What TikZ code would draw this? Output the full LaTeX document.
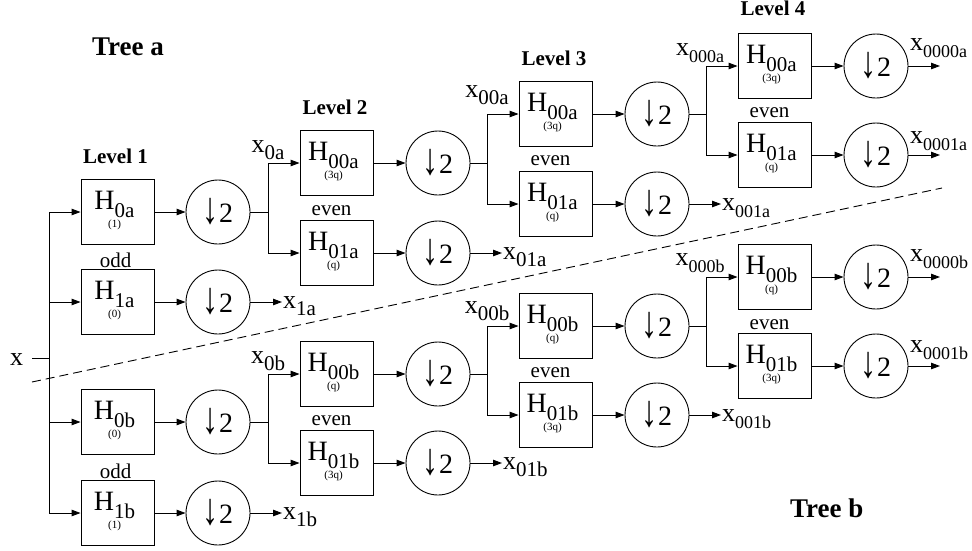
\documentclass[tikz,border=0pt]{standalone}
\usepackage{fontspec}
\usepackage{graphicx}
\setmainfont{Liberation Serif}
\usetikzlibrary{arrows.meta}
\newcommand\hsub[1]{\raisebox{-8pt}{\fontsize{21}{21}\selectfont #1}}
\newcommand\xlab[1]{x\raisebox{-7pt}{\fontsize{21}{21}\selectfont #1}}
\newcommand\xlabs[1]{x\raisebox{-7pt}{\fontsize{18}{18}\selectfont #1}}
\newcommand\filt[5]{%
 \node[fbox] (#1) at (#2,#3) {};
 \node[htext] (#1h) at (#2-3,#3-3) {H\hsub{#4}};
 \node[stext] (#1s) at (#2-3,#3+13) {(#5)};}
\newcommand\dec[3]{\node[dsc] (#1) at (#2,#3) {\raisebox{-1pt}{\scalebox{1.15}[1.6]{↓}}2};}
\tikzset{
 fbox/.style={draw, line width=0.9pt, minimum width=73pt, minimum height=65pt, inner sep=0pt},
 htext/.style={anchor=base, inner sep=0pt, font=\fontsize{28}{28}\selectfont},
 stext/.style={inner sep=0pt, font=\fontsize{11}{11}\selectfont},
 dsc/.style={draw, circle, line width=0.9pt, minimum size=64pt, inner sep=0pt, font=\fontsize{28}{28}\selectfont},
 arr/.style={line width=0.9pt, -{Triangle[length=9pt,width=6.5pt]}},
 ln/.style={line width=0.9pt},
 xl/.style={inner sep=0pt, font=\fontsize{26}{26}\selectfont},
 lvl/.style={anchor=base, inner sep=0pt, font=\fontsize{21}{21}\selectfont\bfseries},
 tree/.style={anchor=base west, inner sep=0pt, font=\fontsize{27}{27}\selectfont\bfseries},
 eo/.style={anchor=base, inner sep=0pt, font=\fontsize{21}{21}\selectfont},
}
\begin{document}
\begin{tikzpicture}[x=1pt,y=-1pt]
\useasboundingbox (0,0) rectangle (972,550);
% titles
\node[tree] (ta) at (92,55) {Tree a};
\node[tree] (tb) at (790,517) {Tree b};
\node[lvl] (l1) at (115.5,163) {Level 1};
\node[lvl] (l2) at (335,114) {Level 2};
\node[lvl] (l3) at (554,65) {Level 3};
\node[lvl] (l4) at (773,15) {Level 4};
% dashed separator
\coordinate (da) at (32,382);
\coordinate (db) at (942,188);
\draw[ln, dash pattern=on 9pt off 5pt] (da) -- (db);
% input
\node[xl, anchor=base] (xin) at (16.5,365) {x};
\coordinate (j0) at (49,358);
\draw[ln] (32,358) -- (j0);
% level 1
\filt{H0a}{117.5}{212}{0a}{1}
\filt{H1a}{117.5}{302}{1a}{0}
\filt{H0b}{117.5}{422}{0b}{0}
\filt{H1b}{117.5}{513}{1b}{1}
\node[eo] (odda) at (115.5,267) {odd};
\node[eo] (oddb) at (115.5,478) {odd};
\dec{D0a}{218}{212}
\dec{D1a}{218}{302}
\dec{D0b}{218}{422}
\dec{D1b}{218}{513}
\foreach \n in {H0a,H1a,H0b,H1b} \draw[arr] (j0) |- (\n.west);
\draw[arr] (H0a.east) -- (D0a.west);
\draw[arr] (H1a.east) -- (D1a.west);
\draw[arr] (H0b.east) -- (D0b.west);
\draw[arr] (H1b.east) -- (D1b.west);
% level 2
\coordinate (j0a) at (268,212);
\coordinate (j0b) at (268,422);
\filt{H00a}{336.5}{163}{00a}{3q}
\filt{H01a}{336.5}{253}{01a}{q}
\filt{H00b}{336.5}{374}{00b}{q}
\filt{H01b}{336.5}{463}{01b}{3q}
\node[eo] (ev2a) at (331.5,215) {even};
\node[eo] (ev2b) at (331.5,425) {even};
\dec{D00a}{438}{163}
\dec{D01a}{438}{253}
\dec{D00b}{438}{374}
\dec{D01b}{438}{463}
\node[xl, anchor=base] (x0a) at (268,152) {\xlab{0a}};
\node[xl, anchor=base] (x0b) at (268,363) {\xlab{0b}};
\draw[ln] (D0a.east) -- (j0a);
\draw[ln] (D0b.east) -- (j0b);
\draw[arr] (j0a) |- (H00a.west);
\draw[arr] (j0a) |- (H01a.west);
\draw[arr] (j0b) |- (H00b.west);
\draw[arr] (j0b) |- (H01b.west);
\draw[arr] (H00a.east) -- (D00a.west);
\draw[arr] (H01a.east) -- (D01a.west);
\draw[arr] (H00b.east) -- (D00b.west);
\draw[arr] (H01b.east) -- (D01b.west);
% level 3
\coordinate (j00a) at (487,163);
\coordinate (j00b) at (487,374);
\filt{H3a}{555.5}{114}{00a}{3q}
\filt{H3b}{555.5}{204}{01a}{q}
\filt{H3c}{555.5}{326}{00b}{q}
\filt{H3d}{555.5}{415}{01b}{3q}
\node[eo] (ev3a) at (550.5,165) {even};
\node[eo] (ev3b) at (550.5,377) {even};
\dec{D3a}{657}{114}
\dec{D3b}{657}{204}
\dec{D3c}{657}{326}
\dec{D3d}{657}{415}
\node[xl, anchor=base] (x00a) at (487,97) {\xlab{00a}};
\node[xl, anchor=base] (x00b) at (487,313) {\xlab{00b}};
\draw[ln] (D00a.east) -- (j00a);
\draw[ln] (D00b.east) -- (j00b);
\draw[arr] (j00a) |- (H3a.west);
\draw[arr] (j00a) |- (H3b.west);
\draw[arr] (j00b) |- (H3c.west);
\draw[arr] (j00b) |- (H3d.west);
\draw[arr] (H3a.east) -- (D3a.west);
\draw[arr] (H3b.east) -- (D3b.west);
\draw[arr] (H3c.east) -- (D3c.west);
\draw[arr] (H3d.east) -- (D3d.west);
% level 4
\coordinate (j000a) at (706,114);
\coordinate (j000b) at (706,326);
\filt{H4a}{774.5}{66}{00a}{3q}
\filt{H4b}{774.5}{155}{01a}{q}
\filt{H4c}{774.5}{277}{00b}{q}
\filt{H4d}{774.5}{366}{01b}{3q}
\node[eo] (ev4a) at (769.5,117) {even};
\node[eo] (ev4b) at (769.5,329) {even};
\dec{D4a}{876}{66}
\dec{D4b}{876}{155}
\dec{D4c}{876}{277}
\dec{D4d}{876}{366}
\node[xl, anchor=base] (x000a) at (700,55) {\xlabs{000a}};
\node[xl, anchor=base] (x000b) at (700,265) {\xlabs{000b}};
\draw[ln] (D3a.east) -- (j000a);
\draw[ln] (D3c.east) -- (j000b);
\draw[arr] (j000a) |- (H4a.west);
\draw[arr] (j000a) |- (H4b.west);
\draw[arr] (j000b) |- (H4c.west);
\draw[arr] (j000b) |- (H4d.west);
\draw[arr] (H4a.east) -- (D4a.west);
\draw[arr] (H4b.east) -- (D4b.west);
\draw[arr] (H4c.east) -- (D4c.west);
\draw[arr] (H4d.east) -- (D4d.west);
% side outputs
\coordinate (o1a) at (282,302);
\coordinate (o1b) at (282,513);
\coordinate (o01a) at (502,253);
\coordinate (o01b) at (502,463);
\coordinate (o001a) at (721,204);
\coordinate (o001b) at (721,415);
\draw[arr] (D1a.east) -- (o1a);
\draw[arr] (D1b.east) -- (o1b);
\draw[arr] (D01a.east) -- (o01a);
\draw[arr] (D01b.east) -- (o01b);
\draw[arr] (D3b.east) -- (o001a);
\draw[arr] (D3d.east) -- (o001b);
\node[xl, anchor=base west] (x1a) at (283,308) {\xlab{1a}};
\node[xl, anchor=base west] (x1b) at (283,519) {\xlab{1b}};
\node[xl, anchor=base west] (x01a) at (503,259) {\xlab{01a}};
\node[xl, anchor=base west] (x01b) at (503,469) {\xlab{01b}};
\node[xl, anchor=base west] (x001a) at (722,210) {\xlabs{001a}};
\node[xl, anchor=base west] (x001b) at (722,421) {\xlabs{001b}};
% final outputs
\coordinate (o4a) at (940,66);
\coordinate (o4b) at (940,155);
\coordinate (o4c) at (940,277);
\coordinate (o4d) at (940,366);
\draw[arr] (D4a.east) -- (o4a);
\draw[arr] (D4b.east) -- (o4b);
\draw[arr] (D4c.east) -- (o4c);
\draw[arr] (D4d.east) -- (o4d);
\node[xl, anchor=base west] (x0000a) at (910,50) {\xlabs{0000a}};
\node[xl, anchor=base west] (x0001a) at (910,143) {\xlabs{0001a}};
\node[xl, anchor=base west] (x0000b) at (910,261) {\xlabs{0000b}};
\node[xl, anchor=base west] (x0001b) at (910,352) {\xlabs{0001b}};
\end{tikzpicture}
\end{document}
